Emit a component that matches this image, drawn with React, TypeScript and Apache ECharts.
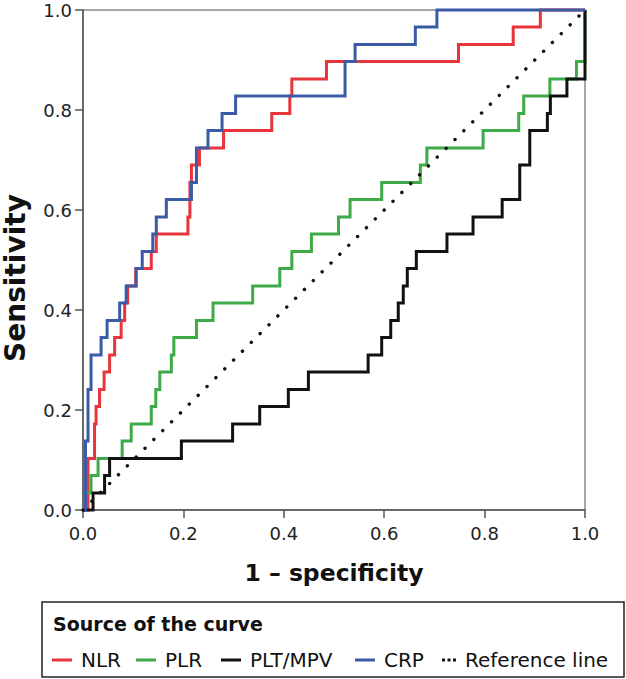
import React, { useEffect, useRef } from "react";
import * as echarts from "echarts";

// ROC curves: for each horizontal run, the sensitivity level and the 1 – specificity where the run ends
const nlrSens = [0, 0.103, 0.172, 0.207, 0.241, 0.276, 0.31, 0.345, 0.379, 0.414, 0.448, 0.483, 0.517, 0.552, 0.586, 0.655, 0.69, 0.724, 0.759, 0.793, 0.828, 0.862, 0.897, 0.931, 0.966, 1.0];
const nlrFpr = [0.01, 0.023, 0.026, 0.033, 0.042, 0.053, 0.063, 0.076, 0.083, 0.089, 0.105, 0.136, 0.146, 0.209, 0.213, 0.216, 0.232, 0.28, 0.376, 0.412, 0.416, 0.485, 0.748, 0.857, 0.911, 1.0];

const plrSens = [0, 0.034, 0.069, 0.103, 0.138, 0.172, 0.207, 0.241, 0.276, 0.31, 0.345, 0.379, 0.414, 0.448, 0.483, 0.517, 0.552, 0.586, 0.621, 0.655, 0.69, 0.724, 0.759, 0.793, 0.828, 0.862, 0.897, 1.0];
const plrFpr = [0.005, 0.016, 0.03, 0.078, 0.096, 0.136, 0.145, 0.153, 0.176, 0.181, 0.226, 0.259, 0.338, 0.392, 0.416, 0.455, 0.509, 0.532, 0.595, 0.672, 0.685, 0.797, 0.868, 0.878, 0.93, 0.983, 1.0, 1.0];

const pltSens = [0, 0.034, 0.069, 0.103, 0.138, 0.172, 0.207, 0.241, 0.276, 0.31, 0.345, 0.379, 0.414, 0.448, 0.483, 0.517, 0.552, 0.586, 0.621, 0.69, 0.759, 0.793, 0.828, 0.862, 1.0];
const pltFpr = [0.02, 0.043, 0.053, 0.196, 0.298, 0.352, 0.409, 0.449, 0.568, 0.595, 0.613, 0.628, 0.638, 0.646, 0.664, 0.725, 0.777, 0.835, 0.87, 0.89, 0.925, 0.931, 0.964, 1.0, 1.0];

const crpSens = [0, 0.138, 0.241, 0.31, 0.345, 0.379, 0.414, 0.448, 0.483, 0.517, 0.552, 0.586, 0.621, 0.655, 0.724, 0.759, 0.793, 0.828, 0.897, 0.931, 0.966, 1.0];
const crpFpr = [0.005, 0.01, 0.016, 0.036, 0.048, 0.073, 0.086, 0.106, 0.118, 0.139, 0.146, 0.166, 0.216, 0.226, 0.249, 0.277, 0.304, 0.522, 0.542, 0.662, 0.705, 1.0];

const refX = [0, 1];
const refY = [0, 1];

const seriesNames = ["NLR", "PLR", "PLT/MPV", "CRP", "Reference line"];
const seriesColors = ["#e8353d", "#3eaa48", "#111111", "#3b5ba6", "#111111"];

const legendTitle = "Source of the curve";
const xTitle = "1 – specificity";
const yTitle = "Sensitivity";

const FONT = "'DejaVu Sans', 'Liberation Sans', Arial, sans-serif";

function staircase(fpr: number[], sens: number[]): number[][] {
  const pts: number[][] = [[0, sens[0]]];
  for (let i = 0; i < fpr.length; i++) {
    if (i > 0) pts.push([fpr[i - 1], sens[i]]);
    pts.push([fpr[i], sens[i]]);
  }
  return pts;
}

export default function App() {
  const ref = useRef<HTMLDivElement>(null);

  useEffect(() => {
    if (!ref.current) return;
    const chart = echarts.init(ref.current, undefined, { renderer: "svg" });

    const curves = [
      staircase(nlrFpr, nlrSens),
      staircase(plrFpr, plrSens),
      staircase(pltFpr, pltSens),
      staircase(crpFpr, crpSens),
    ];

    const series: any[] = curves.map((data, i) => ({
      name: seriesNames[i],
      type: "line",
      data,
      symbol: "none",
      clip: false,
      color: seriesColors[i],
      itemStyle: { color: seriesColors[i] },
      lineStyle: { color: seriesColors[i], width: 3, join: "miter" },
      z: 2 + i,
    }));
    series.push({
      name: seriesNames[4],
      type: "line",
      data: refX.map((x, i) => [x, refY[i]]),
      symbol: "none",
      clip: false,
      color: seriesColors[4],
      itemStyle: { color: seriesColors[4] },
      lineStyle: { color: seriesColors[4], width: 3.4, type: [0.1, 12.4], cap: "round" },
      z: 10,
    });

    const legendLefts = [52, 136, 221, 355, 442];
    const legends = seriesNames.map((name, i) => ({
      left: legendLefts[i],
      top: 650,
      padding: 0,
      selectedMode: false,
      itemWidth: i === 4 ? 14 : 20,
      itemHeight: 3,
      data: [
        {
          name,
          icon: i === 4 ? "path://M0 0h3v3h-3zM5.5 0h3v3h-3zM11 0h3v3h-3z" : "rect",
        },
      ],
      textStyle: { fontSize: 20, fontFamily: FONT, color: "#111", padding: [0, 0, 0, 4] },
    }));

    chart.setOption({
      animation: false,
      backgroundColor: "#ffffff",
      grid: {
        left: 83,
        right: 41,
        top: 10,
        bottom: 169,
        containLabel: false,
        outerBoundsMode: "none",
        show: true,
        borderColor: "#8a8a8a",
        borderWidth: 1.5,
        backgroundColor: "transparent",
      },
      xAxis: {
        type: "value",
        min: 0,
        max: 1,
        interval: 0.2,
        name: xTitle,
        nameLocation: "middle",
        nameGap: 51,
        nameTextStyle: { fontSize: 23.5, fontWeight: "bold", fontFamily: FONT, color: "#111" },
        axisLine: { show: true, lineStyle: { color: "#555", width: 1.5 } },
        axisTick: { show: true, length: 8, lineStyle: { color: "#555", width: 1.5 } },
        axisLabel: {
          fontSize: 18,
          fontFamily: FONT,
          color: "#222",
          margin: 14,
          formatter: (v: number) => v.toFixed(1),
        },
        splitLine: { show: false },
      },
      yAxis: {
        type: "value",
        min: 0,
        max: 1,
        interval: 0.2,
        name: yTitle,
        nameLocation: "middle",
        nameGap: 55,
        nameRotate: 90,
        nameTextStyle: {
          fontSize: 28,
          lineHeight: 25,
          fontWeight: "bold",
          fontFamily: FONT,
          color: "#111",
          padding: [0, 36, 0, 0],
        },
        axisLine: { show: true, lineStyle: { color: "#555", width: 1.5 } },
        axisTick: { show: true, length: 8, lineStyle: { color: "#555", width: 1.5 } },
        axisLabel: {
          fontSize: 18,
          lineHeight: 14,
          fontFamily: FONT,
          color: "#222",
          margin: 11,
          formatter: (v: number) => v.toFixed(1),
        },
        splitLine: { show: false },
      },
      legend: legends,
      graphic: [
        {
          type: "rect",
          shape: { x: 42, y: 602, width: 582, height: 75 },
          style: { fill: "#fff", stroke: "#222", lineWidth: 1.5 },
          z: -1,
          silent: true,
        },
        {
          type: "text",
          x: 53,
          y: 624,
          style: {
            text: legendTitle,
            fontSize: 19,
            fontWeight: "bold",
            fontFamily: FONT,
            fill: "#111",
            verticalAlign: "middle",
          },
        },
      ],
      series,
    });

    return () => chart.dispose();
  }, []);

  return (
    <div
      ref={ref}
      style={{ position: "fixed", left: 0, top: 0, width: 626, height: 679, background: "#fff" }}
    />
  );
}
